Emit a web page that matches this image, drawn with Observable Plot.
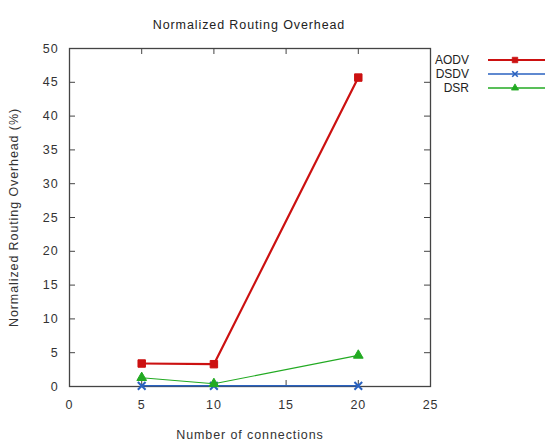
<!DOCTYPE html>
<html><head><meta charset="utf-8">
<script src="https://cdn.jsdelivr.net/npm/d3@7"></script>
<script src="https://cdn.jsdelivr.net/npm/@observablehq/plot@0.6"></script>
<style>
body{margin:0;background:#fff;font-family:"Liberation Sans",Arial,sans-serif;}
#chart{position:relative;width:545px;height:443px;}
#chart svg text{letter-spacing:0.9px;}
</style></head>
<body><div id="chart"></div>
<script>
const connections = [5, 10, 20];
const aodv = [3.4, 3.3, 45.7];
const dsdv = [0.1, 0.1, 0.1];
const dsr = [1.3, 0.4, 4.6];
const seriesNames = ["AODV", "DSDV", "DSR"];
const seriesColors = ["#cc1111", "#2a62c0", "#22aa22"];
const seriesSymbols = ["square", "times", "triangle"];
const seriesWidths = [2.2, 1.6, 1.1];
const xTicks = [0, 5, 10, 15, 20, 25];
const yTicks = [0, 5, 10, 15, 20, 25, 30, 35, 40, 45, 50];

const values = [aodv, dsdv, dsr];
const rows = [];
seriesNames.forEach((s, i) => connections.forEach((c, j) => rows.push({series: s, x: c, y: values[i][j]})));

const W = 545, H = 443, ml = 69, mr = 115, mt = 48, mb = 57;
const innerH = H - mt - mb, innerW = W - ml - mr;
const tk = 6;

const marks = [
  Plot.frame({stroke: "#444", strokeWidth: 1.3}),
  Plot.tickX(xTicks.slice(1, -1), {x: d => d, insetTop: innerH - tk, stroke: "#444"}),
  Plot.tickX(xTicks.slice(1, -1), {x: d => d, insetBottom: innerH - tk, stroke: "#444"}),
  Plot.tickY(yTicks.slice(1, -1), {y: d => d, insetRight: innerW - tk, stroke: "#444"}),
  Plot.tickY(yTicks.slice(1, -1), {y: d => d, insetLeft: innerW - tk, stroke: "#444"}),
  Plot.axisX({ticks: xTicks, tickSize: 0, tickPadding: 14, fontSize: 12.5, color: "#333",
    label: "Number of connections", labelAnchor: "center", labelArrow: "none", labelOffset: 52}),
  Plot.axisY({ticks: yTicks, tickSize: 0, tickPadding: 11, fontSize: 12.5, color: "#333",
    label: "Normalized Routing Overhead (%)", labelAnchor: "center", labelArrow: "none", labelOffset: 60}),
];
seriesNames.forEach((s, i) => {
  const d = rows.filter(r => r.series === s);
  marks.push(Plot.line(d, {x: "x", y: "y", stroke: seriesColors[i], strokeWidth: seriesWidths[i]}));
  marks.push(Plot.dot(d, {x: "x", y: "y", symbol: seriesSymbols[i], r: i === 0 ? 4.2 : 3.6,
    fill: i === 1 ? "none" : seriesColors[i], stroke: seriesColors[i], strokeWidth: i === 1 ? 2 : 1}));
});
marks.push(Plot.text(["Normalized Routing Overhead"], {frameAnchor: "top", dy: -28, dx: -1, fontSize: 12.5, fill: "#222"}));

const chart = Plot.plot({
  width: W, height: H, marginLeft: ml, marginRight: mr, marginTop: mt, marginBottom: mb,
  style: {fontFamily: "Liberation Sans, Arial, sans-serif", background: "#fff", color: "#333"},
  x: {domain: [0, 25]},
  y: {domain: [0, 50]},
  marks
});
document.getElementById("chart").appendChild(chart);

// legend (outside plot area, right)
const svg = d3.select(chart);
const g = svg.append("g").attr("font-family", "Liberation Sans, Arial, sans-serif").attr("font-size", 12);
const sym = [d3.symbolSquare, d3.symbolTimes, d3.symbolTriangle];
seriesNames.forEach((s, i) => {
  const y = 60 + i * 14;
  g.append("text").attr("x", 469).attr("y", y).attr("dy", "0.35em").attr("text-anchor", "end")
    .attr("fill", "#222").style("letter-spacing", "0px").text(s);
  g.append("line").attr("x1", 488).attr("x2", 545).attr("y1", y).attr("y2", y)
    .attr("stroke", seriesColors[i]).attr("stroke-width", i === 0 ? 1.8 : 1.3);
  g.append("path").attr("d", d3.symbol(sym[i], i === 0 ? 30 : 22)())
    .attr("transform", `translate(515,${y})`)
    .attr("fill", i === 1 ? "none" : seriesColors[i]).attr("stroke", seriesColors[i]).attr("stroke-width", i === 1 ? 1.6 : 0.8);
});
</script></body></html>
